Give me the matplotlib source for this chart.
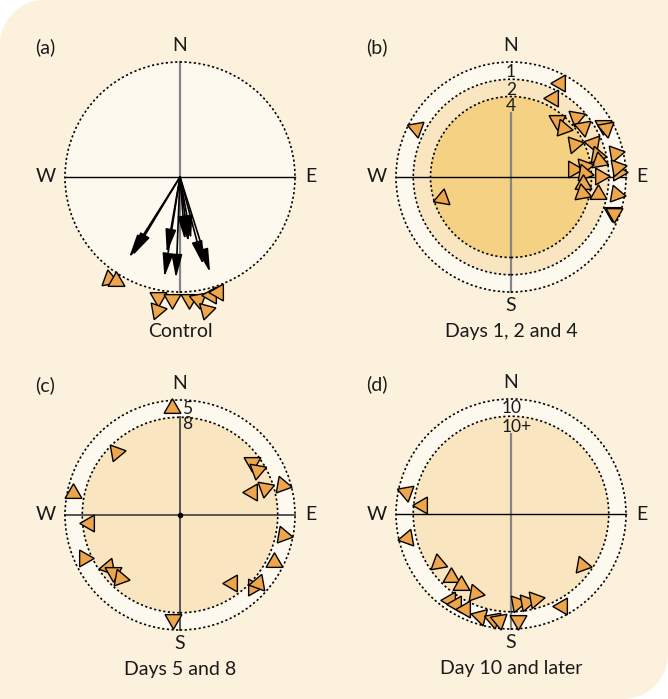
import numpy as np
import matplotlib
matplotlib.use("Agg")
import matplotlib.pyplot as plt
from matplotlib.patches import Circle, Polygon

plt.rcParams['font.family'] = ['Lato', 'DejaVu Sans']

# bearings in degrees clockwise from north, distances in units of the outer circle
# headings = direction the triangle points, clockwise from north

# (a) control
a_arrow_bearing = [212.3, 211.1, 189.9, 188.9, 182.3, 175.5, 172.7, 169.9, 165.2, 162.5]
a_arrow_length = [0.83, 0.80, 0.67, 0.88, 0.88, 0.55, 0.57, 0.55, 0.79, 0.87]
a_tri_bearing = [214.9, 211.8, 190.3, 189.9, 183.6, 175.8, 171.4, 168.9, 165.3, 161.5]
a_tri_dist = [1.08, 1.06, 1.06, 1.17, 1.06, 1.06, 1.07, 1.18, 1.06, 1.05]
a_tri_heading = [110, 120, 180, 200, 180, 180, 170, 195, 150, 150]

# (b) days 1, 2 and 4
b_tri_bearing = [27.5, 27.9, 297.1, 38.7, 47.0, 47.4, 55.2, 62.0, 67.7, 60.6,
                 62.9, 75.7, 79.5, 76.8, 83.0, 81.4, 86.6, 89.2, 87.2, 84.4,
                 95.6, 103.0, 101.0, 99.4, 109.0, 109.4, 252.9]
b_tri_dist = [0.924, 0.775, 0.928, 0.635, 0.62, 0.77, 0.766, 0.62, 0.77, 0.92,
              0.93, 0.775, 0.78, 0.93, 0.546, 0.64, 0.636, 0.774, 0.934, 0.923,
              0.626, 0.63, 0.773, 0.925, 0.926, 0.95, 0.63]
b_tri_heading = [270, 270, 170, 60, 100, 190, 170, 200, 160, 180,
                 170, 100, 110, 80, 90, 80, 100, 90, 90, 80,
                 120, 110, 120, 100, 60, 60, 10]

# (c) days 5 and 8
c_tri_bearing = [355.6, 314.7, 281.5, 265.1, 245.7, 234.2, 229.3, 223.5, 53.7, 59.6,
                 72.2, 72.6, 73.6, 101.0, 116.3, 142.9, 134.4, 131.1, 184.0]
c_tri_dist = [0.93, 0.78, 0.947, 0.79, 0.916, 0.77, 0.765, 0.76, 0.78, 0.773,
              0.66, 0.775, 0.922, 0.915, 0.915, 0.745, 0.89, 0.90, 0.91]
c_tri_heading = [0, 200, 240, 270, 330, 20, 60, 100, 180, 190,
                 150, 70, 100, 100, 0, 270, 330, 20, 180]

# (d) day 10 and later
d_tri_bearing = [282.0, 275.8, 256.9, 236.2, 223.6, 215.3, 204.4, 215.3, 211.4, 205.8,
                 196.9, 189.9, 186.3, 176.4, 176.3, 170.3, 164.3, 125.8, 151.1]
d_tri_dist = [0.933, 0.78, 0.93, 0.76, 0.76, 0.757, 0.757, 0.917, 0.917, 0.92,
              0.927, 0.93, 0.927, 0.923, 0.773, 0.774, 0.77, 0.758, 0.913]
d_tri_heading = [290, 270, 260, 350, 120, 120, 100, 150, 150, 150,
                 165, 170, 170, 180, 200, 200, 200, 340, 270]

BG = '#fbf1dc'
LIGHT = '#fdf9ef'
MID = '#f9e6c1'
DEEP = '#f5d283'
TRI = '#eea64c'

W, H = 668, 699
R = 115.0   # outer circle radius in pixels
L = 1.5     # axes half-extent in circle units

fig = plt.figure(figsize=(W / 100, H / 100), dpi=100)
fig.patch.set_facecolor('white')

# background box, rounded top-left and bottom-right
bg = fig.add_axes([0, 0, 1, 1])
bg.set_xlim(0, W)
bg.set_ylim(H, 0)
bg.axis('off')
rc = 45
t = np.linspace(0, np.pi / 2, 20)
pts = []
pts += list(zip(rc - rc * np.cos(t), rc - rc * np.sin(t)))           # top-left arc
pts += [(W, 0)]
pts += list(zip(W - rc + rc * np.cos(t), H - rc + rc * np.sin(t)))   # bottom-right arc
pts += [(0, H)]
bg.add_patch(Polygon(pts, closed=True, fc=BG, ec='none'))


def polar(bearing, dist):
    b = np.radians(np.asarray(bearing))
    d = np.asarray(dist)
    return d * np.sin(b), d * np.cos(b)


def make_panel(cx, cy):
    ax = fig.add_axes([(cx - L * R) / W, (H - cy - L * R) / H, 2 * L * R / W, 2 * L * R / H])
    ax.set_xlim(-L, L)
    ax.set_ylim(-L, L)
    ax.axis('off')
    ax.patch.set_visible(False)
    return ax


def rings(ax, radii, colors):
    for r, c in zip(radii, colors):
        ax.add_patch(Circle((0, 0), r, fc=c, ec='none', zorder=1))
    for r in radii:
        ax.add_patch(Circle((0, 0), r, fill=False, ec='black', lw=1.2,
                            ls=(0, (1.3, 1.5)), zorder=3))


def compass(ax, letter, caption, show_s=True):
    kw = dict(fontsize=14, ha='center', va='center', color='#1a1a1a')
    ax.text(0, 1.14, 'N', **kw)
    ax.text(-1.17, 0, 'W', **kw)
    ax.text(1.135, 0, 'E', **kw)
    if show_s:
        ax.text(0, -1.12, 'S', **kw)
    ax.text(0, -1.34, caption, **kw)
    ax.text(-1.26, 1.13, letter, fontsize=14, ha='left', va='center', color='#1a1a1a')


def triangles(ax, bearing, dist, heading):
    xs, ys = polar(bearing, dist)
    for x, y, h in zip(xs, ys, heading):
        ax.plot(x, y, marker=(3, 0, -h), ms=14, mfc=TRI, mec='black', mew=1.0,
                ls='none', zorder=5, clip_on=False)


# (a)
ax = make_panel(180, 177)
rings(ax, [1.0], [LIGHT])
ax.plot([0, 0], [1, -1], color='#858585', lw=1.6, zorder=2)
ax.plot([-1, 1], [0, 0], color='black', lw=1.0, zorder=2)
xs, ys = polar(a_arrow_bearing, a_arrow_length)
for x, y in zip(xs, ys):
    ax.annotate('', xy=(x, y), xytext=(0, 0),
                arrowprops=dict(arrowstyle='-|>,head_length=1.3,head_width=0.3',
                                color='black', lw=1.2, shrinkA=0, shrinkB=0,
                                mutation_scale=11), zorder=4)
triangles(ax, a_tri_bearing, a_tri_dist, a_tri_heading)
compass(ax, '(a)', 'Control', show_s=False)

# (b)
ax = make_panel(511, 177)
rings(ax, [1.0, 0.85, 0.70], [LIGHT, MID, DEEP])
ax.plot([0, 0], [0.555, -1], color='#858585', lw=1.6, zorder=2)
ax.plot([-1, 1], [0, 0], color='black', lw=1.0, zorder=2)
for lab, yy in zip(['1', '2', '4'], [0.915, 0.757, 0.617]):
    ax.text(0, yy, lab, fontsize=12.5, ha='center', va='center', color='#1a1a1a', zorder=4)
triangles(ax, b_tri_bearing, b_tri_dist, b_tri_heading)
compass(ax, '(b)', 'Days 1, 2 and 4')

# (c)
ax = make_panel(180, 515)
rings(ax, [1.0, 0.85], [LIGHT, MID])
ax.plot([0, 0], [0.85, -1], color='#555555', lw=1.4, zorder=2)
ax.plot([-1, 1], [0, 0], color='#555555', lw=1.4, zorder=2)
ax.plot(0, 0, 'o', ms=3, color='black', zorder=2)
ax.text(0.02, 0.92, '5', fontsize=12.5, ha='left', va='center', color='#1a1a1a', zorder=4)
ax.text(0.02, 0.79, '8', fontsize=12.5, ha='left', va='center', color='#1a1a1a', zorder=4)
triangles(ax, c_tri_bearing, c_tri_dist, c_tri_heading)
compass(ax, '(c)', 'Days 5 and 8')

# (d)
ax = make_panel(511, 514)
rings(ax, [1.0, 0.85], [LIGHT, MID])
ax.plot([0, 0], [0.70, -1], color='#858585', lw=1.6, zorder=2)
ax.plot([-1, 1], [0, 0], color='black', lw=1.0, zorder=2)
ax.text(0.005, 0.919, '10', fontsize=12.5, ha='center', va='center', color='#1a1a1a', zorder=4)
ax.text(0.05, 0.76, '10+', fontsize=12.5, ha='center', va='center', color='#1a1a1a', zorder=4)
triangles(ax, d_tri_bearing, d_tri_dist, d_tri_heading)
compass(ax, '(d)', 'Day 10 and later')

fig.savefig('out.png', dpi=100, facecolor=fig.get_facecolor())
